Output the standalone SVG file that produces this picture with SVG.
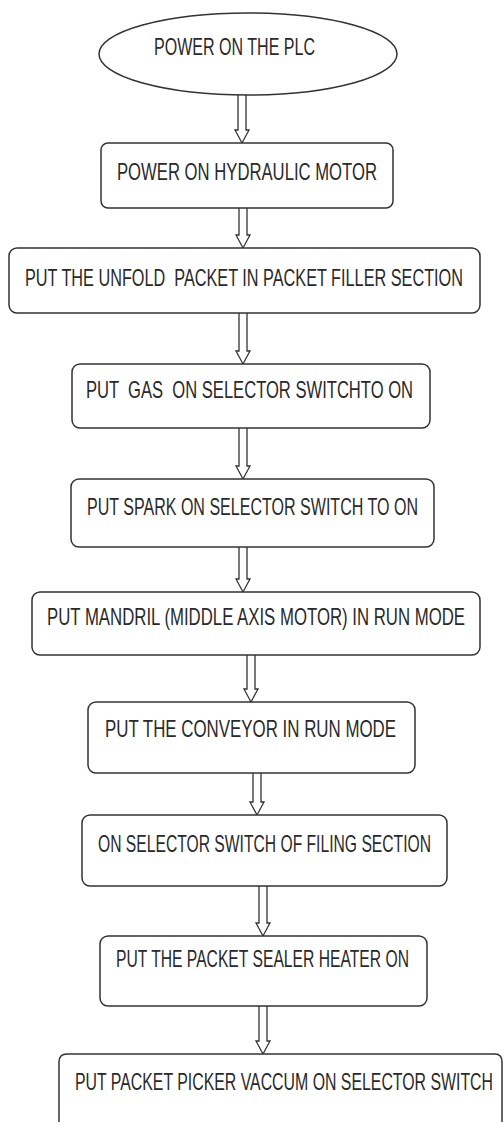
<svg xmlns="http://www.w3.org/2000/svg" width="504" height="1122" viewBox="0 0 504 1122">
<style>
.n{fill:#fff;stroke:#333;stroke-width:1.5}
.t{font-family:"Liberation Sans",Arial,sans-serif;font-size:23px;fill:#2a2a2a;white-space:pre}
.a{fill:#fff;stroke:#333;stroke-width:1.3;stroke-linejoin:miter}
</style>
<rect width="504" height="1122" fill="#fff"/>
<g id="connectors">
<path class="a" d="M238,95 V130 H235 L242,143 L249,130 H246 V95"/>
<path class="a" d="M239,208 V235 H236 L243,248 L250,235 H247 V208"/>
<path class="a" d="M239,313 V351 H236 L243,364 L250,351 H247 V313"/>
<path class="a" d="M239,428 V466 H236 L243,479 L250,466 H247 V428"/>
<path class="a" d="M239,547 V579 H236 L243,592 L250,579 H247 V547"/>
<path class="a" d="M247,655 V689 H244 L251,702 L258,689 H255 V655"/>
<path class="a" d="M253,773 V802 H250 L257,815 L264,802 H261 V773"/>
<path class="a" d="M259,886 V923 H256 L263,936 L270,923 H267 V886"/>
<path class="a" d="M259,1006 V1041 H256 L263,1054 L270,1041 H267 V1006"/>
</g>
<g id="n1"><ellipse class="n" cx="248" cy="54" rx="149" ry="41"/><text class="t" transform="translate(154,55) scale(0.72,1)" textLength="223.6" lengthAdjust="spacingAndGlyphs">POWER ON THE PLC</text></g>
<g id="n2"><rect class="n" x="101" y="143" width="292" height="65" rx="7"/><text class="t" transform="translate(117,180) scale(0.72,1)" textLength="361.1" lengthAdjust="spacingAndGlyphs">POWER ON HYDRAULIC MOTOR</text></g>
<g id="n3"><rect class="n" x="9" y="248" width="471" height="65" rx="8"/><text class="t" transform="translate(25,286) scale(0.72,1)" textLength="608.3" lengthAdjust="spacingAndGlyphs">PUT THE UNFOLD  PACKET IN PACKET FILLER SECTION</text></g>
<g id="n4"><rect class="n" x="72" y="364" width="358" height="64" rx="8"/><text class="t" transform="translate(86,398) scale(0.72,1)" textLength="454.2" lengthAdjust="spacingAndGlyphs">PUT  GAS  ON SELECTOR SWITCHTO ON</text></g>
<g id="n5"><rect class="n" x="71" y="479" width="363" height="68" rx="8"/><text class="t" transform="translate(87,515) scale(0.72,1)" textLength="459.7" lengthAdjust="spacingAndGlyphs">PUT SPARK ON SELECTOR SWITCH TO ON</text></g>
<g id="n6"><rect class="n" x="32" y="592" width="448" height="63" rx="8"/><text class="t" transform="translate(47,625) scale(0.72,1)" textLength="580.6" lengthAdjust="spacingAndGlyphs">PUT MANDRIL (MIDDLE AXIS MOTOR) IN RUN MODE</text></g>
<g id="n7"><rect class="n" x="88" y="702" width="327" height="71" rx="8"/><text class="t" transform="translate(105,737) scale(0.72,1)" textLength="404.2" lengthAdjust="spacingAndGlyphs">PUT THE CONVEYOR IN RUN MODE</text></g>
<g id="n8"><rect class="n" x="82" y="815" width="365" height="71" rx="8"/><text class="t" transform="translate(98,852) scale(0.72,1)" textLength="462.5" lengthAdjust="spacingAndGlyphs">ON SELECTOR SWITCH OF FILING SECTION</text></g>
<g id="n9"><rect class="n" x="100" y="936" width="327" height="70" rx="8"/><text class="t" transform="translate(116,967) scale(0.72,1)" textLength="406.9" lengthAdjust="spacingAndGlyphs">PUT THE PACKET SEALER HEATER ON</text></g>
<g id="n10"><path class="n" d="M59,1122 V1062 Q59,1054 67,1054 H495 Q502,1054 502,1062 V1122"/><text class="t" transform="translate(75,1090) scale(0.66,1)" textLength="633.3" lengthAdjust="spacingAndGlyphs">PUT PACKET PICKER VACCUM ON SELECTOR SWITCH</text></g>
</svg>
